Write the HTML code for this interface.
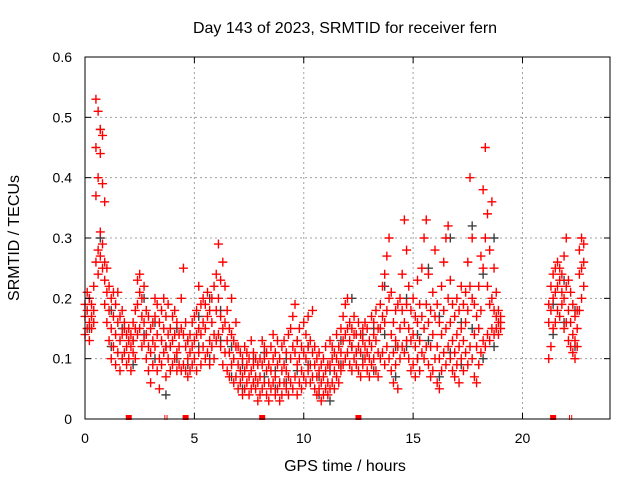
<!DOCTYPE html>
<html><head><meta charset="utf-8"><style>
body{margin:0;background:#fff}
svg text{font-family:"Liberation Sans",sans-serif;font-size:14px;fill:#000}
svg text.big{font-size:16px}
</style></head><body>
<svg id="chart" width="640" height="480" xmlns="http://www.w3.org/2000/svg">
<text class="big" x="345" y="33" text-anchor="middle">Day 143 of 2023, SRMTID for receiver fern</text>
<text class="big" x="19" y="238" text-anchor="middle" transform="rotate(-90 19 238)">SRMTID / TECUs</text>
<text class="big" x="345" y="471" text-anchor="middle">GPS time / hours</text>
<g id="grid"></g>
<g id="black"></g>
<g id="red"></g>
<g id="axes"></g>
</svg>
<script>
const xTicks=[0,5,10,15,20];
const yTicks=[0,0.1,0.2,0.3,0.4,0.5,0.6];
const yTickLabels=["0","0.1","0.2","0.3","0.4","0.5","0.6"];
const redTimes=[0,0.1,0.2,0.3,0.4,0.5,0.6,0.7,0.8,0.9,1,1.1,1.2,1.3,1.4,1.5,1.6,1.7,1.8,1.9,2,2.1,2.2,2.3,2.4,2.5,2.6,2.7,2.8,2.9,3,3.1,3.2,3.3,3.4,3.5,3.6,3.7,3.8,3.9,4,4.1,4.2,4.3,4.4,4.5,4.6,4.7,4.8,4.9,5,5.1,5.2,5.3,5.4,5.5,5.6,5.7,5.8,5.9,6,6.1,6.2,6.3,6.4,6.5,6.6,6.7,6.8,6.9,7,7.1,7.2,7.3,7.4,7.5,7.6,7.7,7.8,7.9,8,8.1,8.2,8.3,8.4,8.5,8.6,8.7,8.8,8.9,9,9.1,9.2,9.3,9.4,9.5,9.6,9.7,9.8,9.9,10,10.1,10.2,10.3,10.4,10.5,10.6,10.7,10.8,10.9,11,11.1,11.2,11.3,11.4,11.5,11.6,11.7,11.8,11.9,12,12.1,12.2,12.3,12.4,12.5,12.6,12.7,12.8,12.9,13,13.1,13.2,13.3,13.4,13.5,13.6,13.7,13.8,13.9,14,14.1,14.2,14.3,14.4,14.5,14.6,14.7,14.8,14.9,15,15.1,15.2,15.3,15.4,15.5,15.6,15.7,15.8,15.9,16,16.1,16.2,16.3,16.4,16.5,16.6,16.7,16.8,16.9,17,17.1,17.2,17.3,17.4,17.5,17.6,17.7,17.8,17.9,18,18.1,18.2,18.3,18.4,18.5,18.6,18.7,18.8,18.9,19,21.2,21.3,21.4,21.5,21.6,21.7,21.8,21.9,22,22.1,22.2,22.3,22.4,22.5,22.6,22.7,22.8];
const redValues=[[.14,.17,.19],[.15,.18,.21],[.13,.16,.2],[.15,.17,.19],[.16,.18,.22],[.26,.37,.45,.53],[.24,.28,.4,.51],[.27,.31,.44,.48],[.25,.29,.39,.47],[.19,.23,.26,.36],[.16,.21,.25],[.13,.18,.22],[.1,.15,.2],[.12,.17,.21],[.09,.14,.19],[.11,.16,.21],[.08,.13,.17],[.1,.14,.18],[.11,.15,.16],[.09,.12,.14],[.1,.13,.15],[.08,.12,.14],[.11,.13,.16],[.1,.15,.18],[.14,.19,.23],[.15,.21,.24],[.12,.17,.2],[.13,.16,.22],[.1,.14,.18],[.08,.12,.17],[.06,.11,.15],[.09,.13,.16],[.12,.17,.2],[.08,.14,.19],[.05,.1,.16],[.09,.13,.18],[.11,.15,.2],[.07,.12,.17],[.1,.14,.19],[.08,.12,.15],[.09,.13,.17],[.1,.14,.18],[.08,.11,.16],[.09,.12,.14],[.08,.15,.2],[.09,.14,.25],[.08,.12,.16],[.07,.1,.13],[.08,.11,.14],[.09,.12,.16],[.1,.13,.17],[.08,.14,.18],[.11,.15,.22],[.09,.14,.19],[.12,.16,.2],[.1,.15,.19],[.11,.17,.21],[.09,.13,.18],[.12,.16,.2],[.1,.14,.22],[.13,.18,.24],[.14,.2,.29],[.12,.17,.23],[.09,.15,.26],[.11,.16,.22],[.08,.13,.18],[.07,.11,.15],[.09,.14,.2],[.06,.1,.13],[.07,.12,.16],[.05,.09,.12],[.06,.08,.11],[.04,.07,.1],[.05,.08,.12],[.06,.09,.11],[.04,.07,.1],[.05,.08,.13],[.06,.09,.11],[.05,.07,.1],[.03,.06,.09],[.04,.07,.1],[.05,.09,.13],[.06,.1,.12],[.04,.08,.11],[.03,.06,.09],[.05,.08,.12],[.06,.1,.14],[.04,.07,.11],[.05,.09,.13],[.03,.06,.1],[.04,.08,.12],[.06,.09,.13],[.05,.08,.11],[.04,.07,.14],[.06,.1,.15],[.05,.12,.17],[.07,.11,.19],[.04,.09,.13],[.06,.1,.15],[.05,.08,.12],[.07,.11,.16],[.06,.1,.14],[.08,.12,.17],[.06,.09,.13],[.07,.11,.18],[.05,.09,.12],[.04,.07,.1],[.05,.08,.11],[.03,.06,.09],[.04,.07,.1],[.05,.08,.12],[.04,.06,.09],[.05,.09,.13],[.06,.1,.12],[.05,.08,.11],[.07,.1,.14],[.06,.09,.12],[.08,.11,.15],[.09,.13,.17],[.1,.14,.19],[.11,.15,.2],[.09,.13,.16],[.08,.12,.15],[.1,.14,.17],[.09,.11,.14],[.08,.12,.16],[.07,.11,.14],[.09,.13,.15],[.1,.12,.16],[.08,.11,.15],[.07,.1,.13],[.09,.12,.17],[.1,.14,.16],[.08,.13,.18],[.07,.11,.15],[.1,.15,.19],[.11,.17,.22],[.09,.16,.24],[.12,.18,.27],[.1,.2,.3],[.08,.14,.21],[.06,.11,.16],[.09,.13,.18],[.05,.12,.19],[.1,.15,.2],[.12,.18,.24],[.11,.16,.33],[.13,.19,.28],[.1,.15,.22],[.08,.13,.18],[.09,.14,.2],[.07,.12,.17],[.1,.16,.23],[.08,.13,.19],[.11,.17,.25],[.1,.15,.3],[.12,.19,.33],[.09,.16,.24],[.07,.12,.18],[.08,.14,.21],[.1,.17,.28],[.06,.12,.19],[.05,.1,.16],[.08,.14,.22],[.11,.18,.26],[.09,.15,.3],[.12,.2,.32],[.1,.16,.23],[.08,.13,.19],[.07,.11,.17],[.09,.14,.2],[.06,.12,.18],[.1,.15,.22],[.08,.13,.19],[.11,.16,.21],[.09,.18,.26],[.12,.22,.4],[.1,.2,.3],[.07,.14,.19],[.06,.12,.17],[.09,.15,.22],[.11,.18,.27],[.13,.25,.38],[.12,.3,.45],[.14,.22,.34],[.13,.19,.28],[.15,.2,.36],[.14,.18,.25],[.15,.17,.21],[.14,.16,.18],[.15,.16,.17],[.1,.16,.19],[.12,.18,.22],[.15,.2,.24],[.16,.21,.25],[.18,.22,.26],[.17,.23,.25],[.19,.21,.24],[.15,.2,.27],[.16,.22,.3],[.13,.18,.23],[.12,.16,.21],[.11,.14,.19],[.1,.13,.17],[.12,.15,.18],[.18,.24,.28],[.2,.25,.3],[.22,.26,.29]];
const blackTimes=[0.2,0.7,1.2,1.7,2.2,2.7,3.2,3.7,4.2,4.7,5.2,5.7,6.2,6.7,7.2,7.7,8.2,8.7,9.2,9.7,10.2,10.7,11.2,11.7,12.2,12.7,13.2,13.7,14.2,14.7,15.2,15.7,16.2,16.7,17.2,17.7,18.2,18.7,21.4,21.9,22.4];
const blackValues=[[.15,.2],[.3,.48],[.12,.18],[.1,.15],[.09,.13],[.14,.2],[.1,.16],[.04,.12],[.1,.15],[.09,.13],[.12,.17],[.1,.2],[.13,.18],[.07,.12],[.05,.09],[.06,.1],[.07,.11],[.05,.08],[.06,.1],[.08,.13],[.09,.12],[.04,.07],[.03,.08],[.09,.13],[.12,.2],[.1,.14],[.08,.15],[.14,.22],[.07,.12],[.12,.2],[.1,.14],[.13,.25],[.07,.17],[.11,.3],[.09,.16],[.15,.32],[.1,.24],[.12,.3],[.14,.19],[.16,.23],[.12,.18]];
const redMarks=[2,4.6,8.1,12.5,21.4];
const redThinMarks=[3.65,3.75,22.15,22.25];

const NS="http://www.w3.org/2000/svg";
const L=85,R=610,T=57,B=419,XMAX=24,YMAX=0.6;
const xs=t=>L+(R-L)*t/XMAX;
const ys=v=>B-(B-T)*v/YMAX;
function mk(tag,attrs,parent){const e=document.createElementNS(NS,tag);for(const k in attrs)e.setAttribute(k,attrs[k]);parent.appendChild(e);return e;}
const grid=document.getElementById('grid'),axes=document.getElementById('axes');
xTicks.forEach((t,i)=>{
  if(t>0){const g=mk('line',{x1:xs(t),x2:xs(t),y1:T,y2:B,stroke:'#a0a0a0','stroke-dasharray':'2,3'},grid);
  
  }
  mk('line',{x1:xs(t),x2:xs(t),y1:B,y2:B-6,stroke:'#000'},axes);
  mk('line',{x1:xs(t),x2:xs(t),y1:T,y2:T+6,stroke:'#000'},axes);
  const tx=mk('text',{x:xs(t),y:B+24,'text-anchor':'middle'},axes);tx.textContent=String(t);
  
  
});
yTicks.forEach((v,i)=>{
  if(v>0&&v<YMAX){const g=mk('line',{x1:L,x2:R,y1:ys(v),y2:ys(v),stroke:'#a0a0a0','stroke-dasharray':'2,3'},grid);
  
  }
  mk('line',{x1:L,x2:L+6,y1:ys(v),y2:ys(v),stroke:'#000'},axes);
  mk('line',{x1:R,x2:R-6,y1:ys(v),y2:ys(v),stroke:'#000'},axes);
  const tx=mk('text',{x:L-13,y:ys(v)+5,'text-anchor':'end'},axes);tx.textContent=yTickLabels[i];
  
  
});
const box=mk('rect',{x:L,y:T,width:R-L,height:B-T,fill:'none',stroke:'#000','stroke-width':1},axes);


function plus(g,t,v,c){const x=xs(t),y=ys(v);
  const p=mk('path',{d:`M${x-4.5} ${y}H${x+4.5}M${x} ${y-4.5}V${y+4.5}`,stroke:c,'stroke-width':1.4,fill:'none'},g);
  
  }
const bg=document.getElementById('black'),rg=document.getElementById('red');
blackTimes.forEach((t,i)=>blackValues[i].forEach(v=>plus(bg,t,v,'#404040')));
redTimes.forEach((t,i)=>redValues[i].forEach(v=>plus(rg,t,v,'#ff0000')));
redMarks.forEach(t=>{const r=mk('rect',{x:xs(t)-3,y:B-4,width:6,height:5,fill:'#ff0000'},rg);
  
  });
redThinMarks.forEach(t=>{const r=mk('line',{x1:xs(t),x2:xs(t),y1:B-4,y2:B+1,stroke:'#ff0000','stroke-width':1},rg);
  
  });
</script>
</body></html>
